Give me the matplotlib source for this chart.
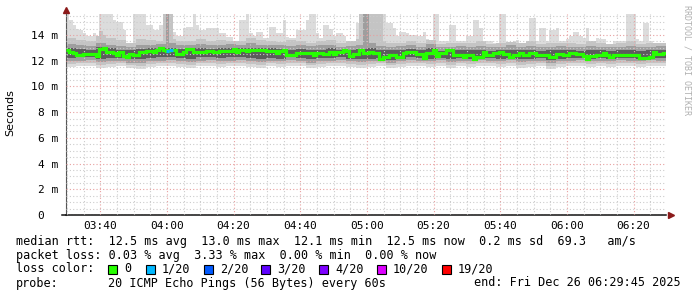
import matplotlib
matplotlib.use('Agg')
import matplotlib.pyplot as plt
from matplotlib.patches import Rectangle
import numpy as np

# one sample per minute, starting 03:29:45 (180 minutes)
median = [12.82, 12.70, 12.60, 12.46, 12.46, 12.50, 12.50, 12.50, 12.50, 12.36,
          12.87, 12.97, 12.70, 12.70, 12.56, 12.46, 12.70, 12.36, 12.26, 12.54,
          12.44, 12.44, 12.70, 12.70, 12.74, 12.74, 12.67, 12.82, 12.95, 12.80,
          12.72, 12.82, 12.80, 12.54, 12.54, 12.70, 12.87, 12.87, 12.64, 12.64,
          12.64, 12.64, 12.72, 12.72, 12.67, 12.67, 12.77, 12.77, 12.77, 12.77,
          12.87, 12.64, 12.82, 12.82, 12.72, 12.85, 12.85, 12.85, 12.85, 12.85,
          12.77, 12.77, 12.77, 12.62, 12.72, 12.82, 12.46, 12.46, 12.46, 12.60,
          12.60, 12.60, 12.60, 12.60, 12.44, 12.59, 12.59, 12.49, 12.49, 12.67,
          12.54, 12.64, 12.64, 12.80, 12.74, 12.36, 12.54, 12.54, 12.82, 12.56,
          12.56, 12.70, 12.56, 12.56, 12.15, 12.30, 12.30, 12.41, 12.41, 12.30,
          12.30, 12.56, 12.64, 12.64, 12.64, 12.49, 12.49, 12.20, 12.62, 12.62,
          12.80, 12.36, 12.59, 12.59, 12.82, 12.82, 12.41, 12.41, 12.41, 12.30,
          12.41, 12.41, 12.15, 12.30, 12.30, 12.67, 12.44, 12.44, 12.56, 12.56,
          12.67, 12.49, 12.49, 12.30, 12.44, 12.44, 12.56, 12.41, 12.41, 12.56,
          12.56, 12.44, 12.44, 12.44, 12.44, 12.30, 12.30, 12.54, 12.54, 12.44,
          12.44, 12.56, 12.56, 12.49, 12.49, 12.36, 12.15, 12.36, 12.36, 12.46,
          12.46, 12.62, 12.44, 12.30, 12.44, 12.44, 12.44, 12.44, 12.44, 12.44,
          12.44, 12.44, 12.18, 12.18, 12.18, 12.30, 12.67, 12.54, 12.54, 12.62]

# minutes with 1/20 packet loss
loss_minutes = [30, 31]

# slowest ping per minute (outer smoke top)
smoke_max = [16, 15.2, 14.8, 14.45, 14.4, 14.15, 13.95, 13.9, 14.15, 13.8,
             16, 16, 16, 16, 15.2, 15.0, 15.0, 14.4, 13.4, 13.4,
             16, 16, 16, 16, 14.8, 14.8, 14.4, 14.4, 14.8, 16,
             16, 16, 14.25, 13.9, 13.9, 14.55, 14.6, 14.6, 16, 14.8,
             14.4, 14.4, 14.55, 14.55, 14.55, 14.55, 14.15, 14.15, 13.85, 13.85,
             13.55, 13.55, 15.2, 15.2, 16, 14.15, 13.9, 14.25, 14.25, 13.8,
             13.8, 14.6, 14.6, 14.15, 14.15, 15.2, 13.85, 13.75, 13.75, 14.4,
             14.4, 14.4, 15.2, 16, 16, 14.15, 13.75, 14.8, 14.8, 14.5,
             13.9, 14.15, 14.15, 13.9, 13.4, 13.4, 13.4, 14.9, 14.9, 16,
             16, 16, 16, 16, 16, 16, 14.9, 14.9, 14.55, 13.9,
             14.25, 14.25, 14.15, 14.0, 14.0, 13.9, 13.9, 14.25, 13.65, 13.4,
             16, 16, 13.55, 13.55, 13.55, 14.8, 14.8, 13.55, 13.55, 13.55,
             13.9, 13.9, 15.2, 15.2, 14.55, 13.55, 13.55, 13.55, 13.4, 13.4,
             16, 16, 13.4, 13.4, 13.55, 13.6, 13.4, 13.4, 13.4, 15.3,
             15.3, 13.55, 14.55, 14.55, 13.55, 14.4, 14.4, 14.55, 13.55, 13.55,
             13.7, 13.9, 14.2, 14.2, 13.9, 13.77, 14.55, 13.4, 13.4, 13.77,
             13.65, 13.65, 13.1, 13.1, 13.5, 13.5, 13.5, 13.5, 16, 16,
             16, 13.65, 13.5, 14.9, 14.9, 13.5, 13.4, 13.4, 13.1, 13.1]

# inner smoke bands, one value per 3 minutes
smoke_min = [11.5, 11.55, 11.6, 11.45, 11.5, 11.6, 11.4, 11.35, 11.5, 11.55,
             11.6, 11.5, 11.45, 11.55, 11.6, 11.5, 11.55, 11.6, 11.5, 11.45,
             11.55, 11.5, 11.6, 11.55, 11.4, 11.5, 11.55, 11.6, 11.5, 11.45,
             11.5, 11.55, 11.4, 11.5, 11.6, 11.55, 11.5, 11.6, 11.45, 11.55,
             11.5, 11.6, 11.55, 11.5, 11.6, 11.45, 11.5, 11.55, 11.35, 11.5,
             11.55, 11.6, 11.5, 11.55, 11.5, 11.6, 11.55, 11.5, 11.6, 11.55]
lo2 = [11.75, 11.8, 11.85, 11.7, 11.75, 11.8, 11.65, 11.6, 11.75, 11.8,
       11.85, 11.75, 11.7, 11.8, 11.85, 11.75, 11.8, 11.85, 11.75, 11.7,
       11.8, 11.75, 11.85, 11.8, 11.65, 11.75, 11.8, 11.85, 11.75, 11.7,
       11.75, 11.8, 11.65, 11.75, 11.85, 11.8, 11.75, 11.85, 11.7, 11.8,
       11.75, 11.85, 11.8, 11.75, 11.85, 11.7, 11.75, 11.8, 11.6, 11.75,
       11.8, 11.85, 11.75, 11.8, 11.75, 11.85, 11.8, 11.75, 11.85, 11.8]
hi2 = [13.8, 13.6, 13.5, 13.9, 13.8, 13.6, 13.4, 13.7, 13.6, 13.5,
       13.7, 13.5, 13.5, 13.7, 13.5, 13.6, 13.55, 13.5, 13.8, 13.6,
       13.5, 13.45, 13.6, 13.5, 13.4, 13.5, 13.6, 13.4, 13.5, 13.7,
       13.8, 13.5, 13.4, 13.35, 13.5, 13.4, 13.6, 13.3, 13.4, 13.35,
       13.4, 13.5, 13.3, 13.4, 13.45, 13.4, 13.5, 13.3, 13.4, 13.35,
       13.4, 13.3, 13.5, 13.4, 13.3, 13.4, 13.5, 13.3, 13.4, 13.35]
lo3 = [11.95, 12.0, 12.05, 11.9, 11.95, 12.0, 11.85, 11.85, 11.95, 12.0,
       12.05, 11.95, 11.9, 12.0, 12.05, 11.95, 12.0, 12.05, 11.95, 11.9,
       12.0, 11.95, 12.05, 12.0, 11.85, 11.95, 12.0, 12.05, 11.95, 11.9,
       11.95, 12.0, 11.85, 11.95, 12.05, 12.0, 11.95, 12.05, 11.9, 12.0,
       11.95, 12.05, 12.0, 11.95, 12.05, 11.9, 11.95, 12.0, 11.85, 11.95,
       12.0, 12.05, 11.95, 12.0, 11.95, 12.05, 12.0, 11.95, 12.05, 12.0]
hi3 = [13.3, 13.2, 13.15, 13.4, 13.25, 13.15, 13.1, 13.2, 13.25, 13.3,
       13.35, 13.2, 13.25, 13.3, 13.2, 13.25, 13.3, 13.25, 13.35, 13.25,
       13.25, 13.2, 13.15, 13.2, 13.15, 13.2, 13.25, 13.1, 13.15, 13.25,
       13.4, 13.15, 13.1, 13.15, 13.2, 13.1, 13.3, 13.05, 13.1, 13.15,
       13.1, 13.15, 13.05, 13.1, 13.2, 13.1, 13.15, 13.05, 13.1, 13.15,
       13.1, 13.05, 13.15, 13.1, 13.05, 13.1, 13.15, 13.05, 13.1, 13.15]
lo4 = [12.2, 12.25, 12.25, 12.15, 12.2, 12.2, 12.1, 12.1, 12.2, 12.25,
       12.25, 12.2, 12.15, 12.25, 12.25, 12.2, 12.25, 12.25, 12.2, 12.15,
       12.2, 12.15, 12.25, 12.2, 12.1, 12.2, 12.2, 12.25, 12.15, 12.1,
       12.15, 12.2, 12.05, 12.15, 12.25, 12.2, 12.15, 12.2, 12.1, 12.2,
       12.15, 12.2, 12.2, 12.15, 12.2, 12.1, 12.15, 12.2, 12.05, 12.15,
       12.2, 12.2, 12.15, 12.2, 12.15, 12.2, 12.2, 12.1, 12.2, 12.2]
hi4 = [13.0, 12.9, 12.85, 13.05, 12.95, 12.85, 12.8, 12.9, 12.95, 13.0,
       13.0, 12.9, 12.95, 12.95, 12.9, 12.95, 13.0, 12.95, 13.0, 12.95,
       12.95, 12.9, 12.85, 12.9, 12.85, 12.85, 12.95, 12.8, 12.85, 12.9,
       13.0, 12.85, 12.8, 12.85, 12.9, 12.8, 12.95, 12.75, 12.8, 12.85,
       12.8, 12.85, 12.75, 12.8, 12.85, 12.8, 12.85, 12.75, 12.8, 12.85,
       12.8, 12.75, 12.85, 12.8, 12.75, 12.8, 12.85, 12.75, 12.8, 12.85]

# single minutes where the inner bands shoot up
mid_spike_min = [10, 11, 29, 31, 88, 91, 92, 93, 94]
mid_spike_top = [14.3, 14.0, 16, 16, 16, 16, 16, 16, 16]
dark_spike_min = [30, 89, 90]
dark_spike_top = [16, 16, 16]

xtick_labels = ['03:40', '04:00', '04:20', '04:40', '05:00', '05:20', '05:40', '06:00', '06:20']
ytick_labels = ['0  ', '2 m', '4 m', '6 m', '8 m', '10 m', '12 m', '14 m']

loss_names = ['0', '1/20', '2/20', '3/20', '4/20', '10/20', '19/20']
loss_colors = ['#26ff00', '#00b8ff', '#0059ff', '#5e00ff', '#7e00ff', '#dd00ff', '#ff0000']

mono = 'DejaVu Sans Mono'
W, H = 697, 297
fig = plt.figure(figsize=(W / 100, H / 100), dpi=100)
ax = fig.add_axes([66 / W, 82 / H, 600 / W, 201 / H])

x = np.arange(len(median))
bands = [
    (np.repeat(smoke_min, 3), np.array(smoke_max, float), '#dcdcdc'),
    (np.repeat(lo2, 3), np.repeat(hi2, 3).astype(float), '#c4c4c4'),
    (np.repeat(lo3, 3), np.repeat(hi3, 3).astype(float), '#9e9e9e'),
    (np.repeat(lo4, 3), np.repeat(hi4, 3).astype(float), '#5c5c5c'),
]
bands[1][1][mid_spike_min] = mid_spike_top
bands[2][1][dark_spike_min] = dark_spike_top
for bot, top, col in bands:
    ax.bar(x, top - bot, bottom=bot, width=1, align='edge', color=col, linewidth=0, zorder=1)

edges = np.arange(len(median) + 1)
ax.stairs(median, edges, baseline=None, color=loss_colors[0], linewidth=2.3, zorder=4)
for m in loss_minutes:
    ax.plot([m, m + 1], [median[m], median[m]], color=loss_colors[1], linewidth=2.3,
            solid_capstyle='butt', zorder=5)

ax.set_xlim(0, 180)
ax.set_ylim(0, 15.63)
major_x = 10.25 + 20 * np.arange(len(xtick_labels))
ax.set_xticks(major_x)
ax.set_xticklabels(xtick_labels, family=mono, fontsize=8)
ax.set_xticks([0.25 + 5 * i for i in range(36) if i % 4 != 2], minor=True)
ax.set_yticks(np.arange(0, 16, 2))
ax.set_yticklabels(ytick_labels, family=mono, fontsize=8)
ax.set_yticks([v for v in np.arange(0, 15.6, 0.5) if v % 2 != 0], minor=True)

ax.set_axisbelow(False)
ax.grid(which='major', color='#e8a0a0', linestyle=(0, (1, 2)), linewidth=0.8)
ax.grid(which='minor', color='#cccccc', linestyle=(0, (1, 2)), linewidth=0.8)
ax.tick_params(which='both', length=0)
ax.tick_params(axis='x', pad=4.5)
ax.tick_params(axis='y', pad=5.5)

for s in ['top', 'right']:
    ax.spines[s].set_visible(False)
ax.spines['left'].set_color('#555555')
ax.spines['bottom'].set_color('#111111')
ax.spines['bottom'].set_linewidth(1.1)
ax.plot([-4 / 600, 0], [0, 0], color='#111111', linewidth=1.1, transform=ax.transAxes, clip_on=False)
ax.plot([0], [1.02], marker='^', markersize=4, color='#8b1a1a', transform=ax.transAxes, clip_on=False)
ax.plot([1.009], [0], marker='>', markersize=4, color='#8b1a1a', transform=ax.transAxes, clip_on=False)

fig.text(10 / W, 1 - 113 / H, 'Seconds', rotation=90, ha='center', va='center', fontsize=8)
fig.text(687 / W, 1 - 5 / H, 'RRDTOOL / TOBI OETIKER', rotation=270, ha='center', va='top',
         fontsize=6, family=mono, color='#b0b0b0')

fs = 8.5
def row(y):
    return 1 - y / H

fig.text(16 / W, row(241), 'median rtt:  12.5 ms avg  13.0 ms max  12.1 ms min  12.5 ms now  0.2 ms sd  69.3   am/s',
         family=mono, fontsize=fs, va='center')
fig.text(16 / W, row(255), 'packet loss: 0.03 % avg  3.33 % max  0.00 % min  0.00 % now',
         family=mono, fontsize=fs, va='center')
fig.text(16 / W, row(269), 'loss color:', family=mono, fontsize=fs, va='center')
box_x = [108, 146, 204, 261, 319, 377, 442]
for bx, name, col in zip(box_x, loss_names, loss_colors):
    fig.patches.append(Rectangle((bx / W, (H - 274) / H), 8.5 / W, 9.5 / H, facecolor=col,
                                 edgecolor='black', linewidth=0.8, transform=fig.transFigure))
    fig.text((bx + 16) / W, row(269), name, family=mono, fontsize=fs, va='center')
fig.text(16 / W, row(283), 'probe:', family=mono, fontsize=fs, va='center')
fig.text(108 / W, row(283), '20 ICMP Echo Pings (56 Bytes) every 60s', family=mono, fontsize=fs, va='center')
fig.text(681 / W, row(283), 'end: Fri Dec 26 06:29:45 2025', family=mono, fontsize=fs, va='center', ha='right')

fig.savefig('out.png', dpi=100, facecolor='white')
